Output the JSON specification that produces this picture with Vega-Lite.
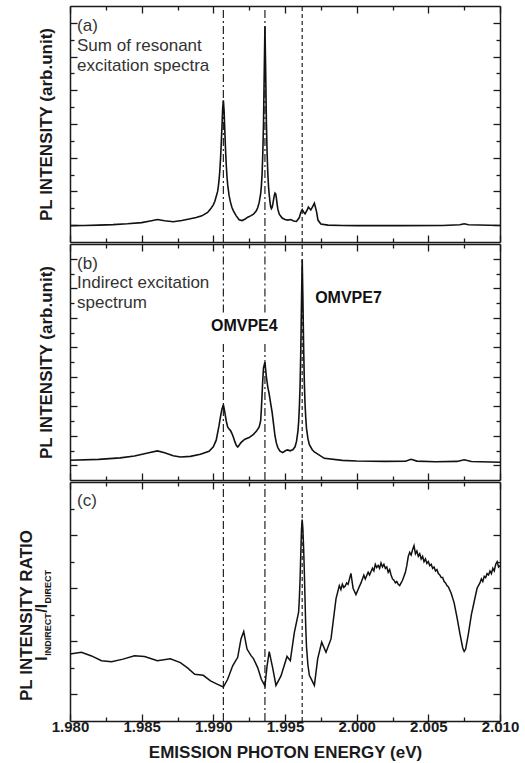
{
  "$schema": "https://vega.github.io/schema/vega-lite/v6.json",
  "padding": {"left": 17, "top": 5, "right": 5, "bottom": 5},
  "background": "white",
  "spacing": 0,
  "config": {
    "font": "Liberation Sans",
    "view": {"stroke": null},
    "axis": {
      "grid": false,
      "domainColor": "#1a1a1a", "domainWidth": 1.5,
      "tickColor": "#1a1a1a", "tickWidth": 1.3,
      "labelFont": "Liberation Sans", "labelFontWeight": "bold", "labelFontSize": 15, "labelColor": "#1a1a1a",
      "titleFont": "Liberation Sans", "titleFontWeight": "bold", "titleFontSize": 17, "titleColor": "#1a1a1a"
    }
  },
  "datasets": {
    "vlines": [
      {"e": 1.9907, "kind": "dashdot"},
      {"e": 1.9936, "kind": "dashdot"},
      {"e": 1.9962, "kind": "dash"}
    ],
    "a": [
      {"e":1.9800,"v":0.97},{"e":1.9810,"v":0.98},{"e":1.9820,"v":1.00},{"e":1.9830,"v":1.03},{"e":1.9840,"v":1.08},
      {"e":1.9850,"v":1.15},{"e":1.9856,"v":1.25},{"e":1.9861,"v":1.33},{"e":1.9866,"v":1.26},{"e":1.9872,"v":1.20},
      {"e":1.9878,"v":1.28},{"e":1.9884,"v":1.38},{"e":1.9888,"v":1.45},{"e":1.9892,"v":1.55},{"e":1.9896,"v":1.75},
      {"e":1.9898,"v":1.95},{"e":1.9900,"v":2.2},{"e":1.9901,"v":2.4},{"e":1.9902,"v":2.7},{"e":1.9903,"v":3.0},
      {"e":1.99035,"v":3.3},{"e":1.9904,"v":3.7},{"e":1.99045,"v":4.2},{"e":1.9905,"v":4.9},{"e":1.99055,"v":5.8},
      {"e":1.9906,"v":6.8},{"e":1.99065,"v":7.9},{"e":1.9907,"v":8.4},{"e":1.99075,"v":7.8},{"e":1.9908,"v":6.6},
      {"e":1.99085,"v":5.5},{"e":1.9909,"v":4.6},{"e":1.99095,"v":3.9},{"e":1.9910,"v":3.4},{"e":1.9911,"v":2.75},
      {"e":1.9912,"v":2.35},{"e":1.9913,"v":2.05},{"e":1.9914,"v":1.85},{"e":1.9916,"v":1.55},{"e":1.9918,"v":1.32},
      {"e":1.9920,"v":1.27},{"e":1.9922,"v":1.35},{"e":1.9924,"v":1.47},{"e":1.9926,"v":1.55},{"e":1.9928,"v":1.65},
      {"e":1.9930,"v":1.85},{"e":1.9931,"v":2.05},{"e":1.9932,"v":2.35},{"e":1.9933,"v":2.85},{"e":1.99335,"v":3.3},
      {"e":1.9934,"v":4.0},{"e":1.99345,"v":5.2},{"e":1.9935,"v":7.0},{"e":1.99355,"v":10.0},{"e":1.9936,"v":12.8},
      {"e":1.99365,"v":10.2},{"e":1.9937,"v":7.2},{"e":1.99375,"v":5.3},{"e":1.9938,"v":4.1},{"e":1.99385,"v":3.3},
      {"e":1.9939,"v":2.8},{"e":1.99395,"v":2.4},{"e":1.9940,"v":2.1},{"e":1.99405,"v":1.98},{"e":1.9941,"v":2.05},
      {"e":1.99415,"v":2.25},{"e":1.9942,"v":2.5},{"e":1.99425,"v":2.75},{"e":1.9943,"v":2.9},{"e":1.99435,"v":2.85},
      {"e":1.9944,"v":2.6},{"e":1.99445,"v":2.25},{"e":1.9945,"v":1.95},{"e":1.9946,"v":1.65},{"e":1.9948,"v":1.42},
      {"e":1.9950,"v":1.33},{"e":1.9952,"v":1.3},{"e":1.9954,"v":1.33},{"e":1.9956,"v":1.25},{"e":1.9958,"v":1.22},
      {"e":1.9960,"v":1.45},{"e":1.9961,"v":1.75},{"e":1.9962,"v":1.92},{"e":1.9963,"v":1.78},{"e":1.9964,"v":1.67},
      {"e":1.99655,"v":1.9},{"e":1.99663,"v":2.07},{"e":1.9968,"v":1.9},{"e":1.9969,"v":2.05},{"e":1.99705,"v":2.3},
      {"e":1.9972,"v":1.8},{"e":1.9973,"v":1.3},{"e":1.9975,"v":1.07},{"e":1.9980,"v":1.0},{"e":1.9990,"v":0.98},
      {"e":2.0000,"v":0.97},{"e":2.0030,"v":0.97},{"e":2.0060,"v":0.98},{"e":2.0072,"v":1.02},{"e":2.0075,"v":1.08},
      {"e":2.0078,"v":1.02},{"e":2.0100,"v":0.98}
    ],
    "b": [
      {"e":1.9800,"v":1.34},{"e":1.9820,"v":1.40},{"e":1.9835,"v":1.50},{"e":1.9845,"v":1.63},{"e":1.9855,"v":1.85},
      {"e":1.9861,"v":1.97},{"e":1.9866,"v":1.85},{"e":1.9872,"v":1.65},{"e":1.9877,"v":1.56},{"e":1.9884,"v":1.60},
      {"e":1.9891,"v":1.75},{"e":1.9897,"v":1.95},{"e":1.9900,"v":2.25},{"e":1.9902,"v":2.7},{"e":1.9903,"v":3.2},
      {"e":1.9904,"v":3.7},{"e":1.9905,"v":4.3},{"e":1.9906,"v":4.8},{"e":1.9907,"v":5.1},{"e":1.9908,"v":4.6},
      {"e":1.9909,"v":4.0},{"e":1.9910,"v":3.6},{"e":1.9911,"v":3.45},{"e":1.9912,"v":3.35},{"e":1.9913,"v":3.15},
      {"e":1.9914,"v":2.9},{"e":1.9915,"v":2.6},{"e":1.9916,"v":2.35},{"e":1.9917,"v":2.24},{"e":1.9918,"v":2.35},
      {"e":1.9919,"v":2.5},{"e":1.9920,"v":2.6},{"e":1.9922,"v":2.77},{"e":1.9925,"v":2.88},{"e":1.9928,"v":3.1},
      {"e":1.9930,"v":3.3},{"e":1.9932,"v":3.6},{"e":1.9933,"v":4.0},{"e":1.99335,"v":4.8},{"e":1.9934,"v":5.8},
      {"e":1.99345,"v":6.8},{"e":1.9935,"v":7.6},{"e":1.9936,"v":7.98},{"e":1.9937,"v":7.0},{"e":1.9938,"v":6.3},
      {"e":1.9939,"v":5.8},{"e":1.9940,"v":5.2},{"e":1.9941,"v":4.6},{"e":1.9942,"v":3.8},{"e":1.9943,"v":3.0},
      {"e":1.9944,"v":2.5},{"e":1.9945,"v":2.2},{"e":1.99465,"v":1.95},{"e":1.99484,"v":1.86},{"e":1.99505,"v":2.0},
      {"e":1.99519,"v":2.04},{"e":1.99535,"v":1.98},{"e":1.99554,"v":2.05},{"e":1.9957,"v":2.25},{"e":1.9958,"v":2.6},
      {"e":1.9959,"v":3.3},{"e":1.99595,"v":3.9},{"e":1.9960,"v":4.9},{"e":1.99605,"v":6.3},{"e":1.9961,"v":8.7},
      {"e":1.99615,"v":12.0},{"e":1.9962,"v":14.95},{"e":1.99625,"v":12.2},{"e":1.9963,"v":9.0},{"e":1.99635,"v":6.6},
      {"e":1.9964,"v":5.1},{"e":1.99645,"v":4.2},{"e":1.9965,"v":3.5},{"e":1.9966,"v":2.8},{"e":1.9967,"v":2.4},
      {"e":1.9969,"v":2.05},{"e":1.99705,"v":1.9},{"e":1.99774,"v":1.47},{"e":1.9990,"v":1.33},{"e":2.0000,"v":1.29},
      {"e":2.0020,"v":1.26},{"e":2.0034,"v":1.27},{"e":2.0038,"v":1.4},{"e":2.0042,"v":1.28},{"e":2.0055,"v":1.24},
      {"e":2.0070,"v":1.26},{"e":2.0075,"v":1.37},{"e":2.0080,"v":1.25},{"e":2.0100,"v":1.2}
    ],
    "c": [
      {"e":1.9800,"v":2.52},{"e":1.9808,"v":2.59},{"e":1.9815,"v":2.45},{"e":1.9822,"v":2.27},{"e":1.9829,"v":2.23},
      {"e":1.9837,"v":2.33},{"e":1.9845,"v":2.46},{"e":1.9852,"v":2.43},{"e":1.9861,"v":2.27},{"e":1.9870,"v":2.34},
      {"e":1.9877,"v":2.2},{"e":1.9882,"v":2.0},{"e":1.9887,"v":1.76},{"e":1.9893,"v":1.72},{"e":1.9898,"v":1.51},
      {"e":1.9903,"v":1.38},{"e":1.9907,"v":1.28},{"e":1.9910,"v":1.57},{"e":1.99135,"v":2.08},{"e":1.9917,"v":2.4},
      {"e":1.99193,"v":3.09},{"e":1.99212,"v":3.37},{"e":1.99235,"v":2.71},{"e":1.99263,"v":2.46},{"e":1.9928,"v":2.35},
      {"e":1.9931,"v":2.0},{"e":1.99335,"v":1.57},{"e":1.9936,"v":1.32},{"e":1.99375,"v":2.08},{"e":1.9939,"v":2.61},
      {"e":1.99414,"v":2.0},{"e":1.99437,"v":1.34},{"e":1.99472,"v":1.7},{"e":1.99514,"v":2.43},{"e":1.99537,"v":2.27},
      {"e":1.99565,"v":3.33},{"e":1.99595,"v":4.1},{"e":1.9960,"v":4.6},{"e":1.99605,"v":5.3},{"e":1.9961,"v":6.3},
      {"e":1.99615,"v":7.2},{"e":1.9962,"v":7.59},{"e":1.99625,"v":7.2},{"e":1.9963,"v":6.5},{"e":1.99635,"v":5.6},
      {"e":1.9964,"v":4.5},{"e":1.99645,"v":3.5},{"e":1.9965,"v":2.8},{"e":1.9966,"v":2.1},{"e":1.9967,"v":1.72},
      {"e":1.99705,"v":1.34},{"e":1.99728,"v":2.34},{"e":1.99756,"v":2.97},{"e":1.99786,"v":2.59},{"e":1.99821,"v":3.09},
      {"e":1.99856,"v":4.61},{"e":1.99879,"v":5.1},{"e":1.9989,"v":4.95},
      {"e":1.9990,"v":5.15},{"e":1.9991,"v":5.03},{"e":1.9992,"v":5.08},{"e":1.9993,"v":5.2},{"e":1.9994,"v":5.15},
      {"e":1.9995,"v":5.35},{"e":1.9996,"v":5.56},{"e":1.99975,"v":5.0},{"e":1.99995,"v":4.76},{"e":2.0001,"v":4.95},
      {"e":2.0003,"v":5.2},{"e":2.0005,"v":5.49},{"e":2.0006,"v":5.35},{"e":2.0008,"v":5.6},{"e":2.0009,"v":5.5},
      {"e":2.0011,"v":5.75},{"e":2.0012,"v":5.65},{"e":2.0013,"v":5.9},{"e":2.0014,"v":5.78},{"e":2.0015,"v":5.86},
      {"e":2.0016,"v":5.75},{"e":2.0017,"v":5.95},{"e":2.0018,"v":5.8},{"e":2.0019,"v":5.9},{"e":2.0020,"v":5.75},
      {"e":2.0021,"v":5.8},{"e":2.0022,"v":5.6},{"e":2.0023,"v":5.7},{"e":2.0024,"v":5.5},{"e":2.0025,"v":5.35},
      {"e":2.0026,"v":5.3},{"e":2.0027,"v":5.2},{"e":2.0028,"v":5.25},{"e":2.0029,"v":5.15},{"e":2.0030,"v":5.1},
      {"e":2.0031,"v":5.2},{"e":2.0032,"v":5.3},{"e":2.0033,"v":5.45},{"e":2.0034,"v":5.6},{"e":2.0035,"v":5.86},
      {"e":2.0036,"v":6.2},{"e":2.0037,"v":6.35},{"e":2.0038,"v":6.25},{"e":2.0039,"v":6.45},{"e":2.0040,"v":6.6},
      {"e":2.0041,"v":6.3},{"e":2.0042,"v":6.4},{"e":2.0043,"v":6.2},{"e":2.0044,"v":6.3},{"e":2.0045,"v":6.1},
      {"e":2.0046,"v":6.2},{"e":2.0047,"v":6.0},{"e":2.0048,"v":6.1},{"e":2.0049,"v":5.93},{"e":2.0050,"v":6.0},
      {"e":2.0051,"v":5.85},{"e":2.0052,"v":5.9},{"e":2.0053,"v":5.75},{"e":2.0054,"v":5.8},{"e":2.0055,"v":5.65},
      {"e":2.0056,"v":5.7},{"e":2.0057,"v":5.55},{"e":2.0058,"v":5.5},{"e":2.0059,"v":5.4},{"e":2.0060,"v":5.4},
      {"e":2.0061,"v":5.25},{"e":2.0062,"v":5.2},{"e":2.0063,"v":5.1},{"e":2.0064,"v":5.05},{"e":2.0066,"v":4.8},
      {"e":2.0068,"v":4.45},{"e":2.0070,"v":3.9},{"e":2.0072,"v":3.3},{"e":2.0074,"v":2.75},{"e":2.0075,"v":2.62},
      {"e":2.0076,"v":2.7},{"e":2.0078,"v":3.3},{"e":2.0080,"v":4.0},{"e":2.0082,"v":4.5},{"e":2.0084,"v":5.0},
      {"e":2.0086,"v":5.2},{"e":2.0087,"v":5.35},{"e":2.0088,"v":5.25},{"e":2.0089,"v":5.45},{"e":2.0090,"v":5.4},
      {"e":2.0091,"v":5.55},{"e":2.0092,"v":5.5},{"e":2.0093,"v":5.65},{"e":2.0094,"v":5.55},{"e":2.0095,"v":5.75},
      {"e":2.0096,"v":5.65},{"e":2.0097,"v":5.9},{"e":2.0098,"v":6.0},{"e":2.0099,"v":5.8},{"e":2.0100,"v":5.86}
    ]
  },
  "vconcat": [
    {
      "width": 430, "height": 236,
      "layer": [
        {
          "data": {"name": "vlines"},
          "mark": {"type": "rule", "strokeWidth": 1.2, "color": "#222"},
          "encoding": {
            "x": {"field": "e", "type": "quantitative", "scale": {"domain": [1.98, 2.01], "nice": false, "zero": false},
              "axis": {"orient": "top", "values": [1.98,1.9825,1.985,1.9875,1.99,1.9925,1.995,1.9975,2.0,2.0025,2.005,2.0075,2.01], "labels": false, "title": null,
                "tickSize": {"condition": {"test": "round(datum.value*10000) % 50 == 0", "value": -7}, "value": -4}}},
            "y": {"datum": 0, "type": "quantitative", "scale": {"domain": [0, 14], "nice": false},
              "axis": {"orient": "right", "values": [1,2,3,4,5,6,7,8,9,10,11,12,13], "labels": false, "title": null,
                "tickSize": {"condition": {"test": "datum.value % 2 == 1", "value": -7}, "value": -4}}},
            "y2": {"datum": 14},
            "strokeDash": {"field": "kind", "type": "nominal", "scale": {"domain": ["dashdot", "dash"], "range": [[8, 3, 2, 3], [4, 3]]}, "legend": null}
          }
        },
        {
          "data": {"name": "a"},
          "mark": {"type": "line", "strokeWidth": 1.6, "color": "#111"},
          "encoding": {
            "x": {"field": "e", "type": "quantitative",
              "axis": {"orient": "bottom", "values": [1.98,1.9825,1.985,1.9875,1.99,1.9925,1.995,1.9975,2.0,2.0025,2.005,2.0075,2.01], "labels": false, "title": null,
                "tickSize": {"condition": {"test": "round(datum.value*10000) % 50 == 0", "value": -7}, "value": -4}}},
            "y": {"field": "v", "type": "quantitative",
              "axis": {"orient": "left", "values": [1,2,3,4,5,6,7,8,9,10,11,12,13], "labels": false, "title": "PL INTENSITY (arb.unit)", "titlePadding": 14,
                "tickSize": {"condition": {"test": "datum.value % 2 == 1", "value": -7}, "value": -4}}}
          }
        },
        {
          "data": {"values": [{}]},
          "mark": {"type": "text", "align": "left", "baseline": "middle", "fontSize": 17, "color": "#333"},
          "encoding": {
            "x": {"datum": 1.98049, "type": "quantitative", "axis": null},
            "y": {"datum": 12.83, "type": "quantitative", "axis": null},
            "text": {"value": "(a)"}
          }
        },
        {
          "data": {"values": [{}]},
          "mark": {"type": "text", "align": "left", "baseline": "middle", "fontSize": 17, "color": "#333"},
          "encoding": {
            "x": {"datum": 1.98049, "type": "quantitative", "axis": null},
            "y": {"datum": 11.65, "type": "quantitative", "axis": null},
            "text": {"value": "Sum of resonant"}
          }
        },
        {
          "data": {"values": [{}]},
          "mark": {"type": "text", "align": "left", "baseline": "middle", "fontSize": 17, "color": "#333"},
          "encoding": {
            "x": {"datum": 1.98049, "type": "quantitative", "axis": null},
            "y": {"datum": 10.46, "type": "quantitative", "axis": null},
            "text": {"value": "excitation spectra"}
          }
        }
      ],
      "resolve": {"axis": {"x": "independent", "y": "independent"}}
    },
    {
      "width": 430, "height": 236,
      "layer": [
        {
          "data": {"name": "vlines"},
          "transform": [{"filter": "datum.kind == 'dash'"}],
          "mark": {"type": "rule", "strokeWidth": 1.2, "color": "#222", "strokeDash": [4, 3]},
          "encoding": {
            "x": {"field": "e", "type": "quantitative", "scale": {"domain": [1.98, 2.01], "nice": false, "zero": false},
              "axis": {"orient": "top", "values": [1.98,1.9825,1.985,1.9875,1.99,1.9925,1.995,1.9975,2.0,2.0025,2.005,2.0075,2.01], "labels": false, "title": null,
                "tickSize": {"condition": {"test": "round(datum.value*10000) % 50 == 0", "value": -7}, "value": -4}}},
            "y": {"datum": 0, "type": "quantitative", "scale": {"domain": [0, 16], "nice": false},
              "axis": {"orient": "right", "values": [1,2,3,4,5,6,7,8,9,10,11,12,13,14,15], "labels": false, "title": null,
                "tickSize": {"condition": {"test": "datum.value % 2 == 1", "value": -7}, "value": -4}}},
            "y2": {"datum": 16}
          }
        },
        {
          "data": {"name": "vlines"},
          "transform": [{"filter": "datum.kind == 'dashdot'"}],
          "mark": {"type": "rule", "strokeWidth": 1.2, "color": "#222", "strokeDash": [8, 3, 2, 3]},
          "encoding": {
            "x": {"field": "e", "type": "quantitative", "axis": null},
            "y": {"datum": 0, "type": "quantitative", "axis": null},
            "y2": {"datum": 9.37}
          }
        },
        {
          "data": {"name": "vlines"},
          "transform": [{"filter": "datum.kind == 'dashdot'"}],
          "mark": {"type": "rule", "strokeWidth": 1.2, "color": "#222", "strokeDash": [8, 3, 2, 3]},
          "encoding": {
            "x": {"field": "e", "type": "quantitative", "axis": null},
            "y": {"datum": 11.36, "type": "quantitative", "axis": null},
            "y2": {"datum": 16}
          }
        },
        {
          "data": {"name": "b"},
          "mark": {"type": "line", "strokeWidth": 1.6, "color": "#111"},
          "encoding": {
            "x": {"field": "e", "type": "quantitative",
              "axis": {"orient": "bottom", "values": [1.98,1.9825,1.985,1.9875,1.99,1.9925,1.995,1.9975,2.0,2.0025,2.005,2.0075,2.01], "labels": false, "title": null,
                "tickSize": {"condition": {"test": "round(datum.value*10000) % 50 == 0", "value": -7}, "value": -4}}},
            "y": {"field": "v", "type": "quantitative",
              "axis": {"orient": "left", "values": [1,2,3,4,5,6,7,8,9,10,11,12,13,14,15], "labels": false, "title": "PL INTENSITY (arb.unit)", "titlePadding": 14,
                "tickSize": {"condition": {"test": "datum.value % 2 == 1", "value": -7}, "value": -4}}}
          }
        },
        {
          "data": {"values": [{}]},
          "mark": {"type": "text", "align": "left", "baseline": "middle", "fontSize": 17, "color": "#333"},
          "encoding": {
            "x": {"datum": 1.98049, "type": "quantitative", "axis": null},
            "y": {"datum": 14.62, "type": "quantitative", "axis": null},
            "text": {"value": "(b)"}
          }
        },
        {
          "data": {"values": [{}]},
          "mark": {"type": "text", "align": "left", "baseline": "middle", "fontSize": 17, "color": "#333"},
          "encoding": {
            "x": {"datum": 1.98049, "type": "quantitative", "axis": null},
            "y": {"datum": 13.38, "type": "quantitative", "axis": null},
            "text": {"value": "Indirect excitation"}
          }
        },
        {
          "data": {"values": [{}]},
          "mark": {"type": "text", "align": "left", "baseline": "middle", "fontSize": 17, "color": "#333"},
          "encoding": {
            "x": {"datum": 1.98049, "type": "quantitative", "axis": null},
            "y": {"datum": 12.02, "type": "quantitative", "axis": null},
            "text": {"value": "spectrum"}
          }
        },
        {
          "data": {"values": [{}]},
          "mark": {"type": "text", "align": "center", "baseline": "middle", "fontSize": 16, "fontWeight": "bold", "color": "#111"},
          "encoding": {
            "x": {"datum": 1.99216, "type": "quantitative", "axis": null},
            "y": {"datum": 10.44, "type": "quantitative", "axis": null},
            "text": {"value": "OMVPE4"}
          }
        },
        {
          "data": {"values": [{}]},
          "mark": {"type": "text", "align": "center", "baseline": "middle", "fontSize": 16, "fontWeight": "bold", "color": "#111"},
          "encoding": {
            "x": {"datum": 1.99943, "type": "quantitative", "axis": null},
            "y": {"datum": 12.36, "type": "quantitative", "axis": null},
            "text": {"value": "OMVPE7"}
          }
        }
      ],
      "resolve": {"axis": {"x": "independent", "y": "independent"}}
    },
    {
      "width": 430, "height": 239,
      "layer": [
        {
          "data": {"name": "vlines"},
          "mark": {"type": "rule", "strokeWidth": 1.2, "color": "#222"},
          "encoding": {
            "x": {"field": "e", "type": "quantitative", "scale": {"domain": [1.98, 2.01], "nice": false, "zero": false},
              "axis": {"orient": "top", "values": [1.98,1.9825,1.985,1.9875,1.99,1.9925,1.995,1.9975,2.0,2.0025,2.005,2.0075,2.01], "labels": false, "title": null,
                "tickSize": {"condition": {"test": "round(datum.value*10000) % 50 == 0", "value": -7}, "value": -4}}},
            "y": {"datum": 0, "type": "quantitative", "scale": {"domain": [0, 9], "nice": false},
              "axis": {"orient": "right", "values": [1,2,3,4,5,6,7,8], "labels": false, "title": null,
                "tickSize": {"condition": {"test": "datum.value % 2 == 1", "value": -7}, "value": -4}}},
            "y2": {"datum": 9},
            "strokeDash": {"field": "kind", "type": "nominal", "scale": {"domain": ["dashdot", "dash"], "range": [[8, 3, 2, 3], [4, 3]]}, "legend": null}
          }
        },
        {
          "data": {"name": "c"},
          "mark": {"type": "line", "strokeWidth": 1.5, "color": "#111"},
          "encoding": {
            "x": {"field": "e", "type": "quantitative",
              "axis": {"orient": "bottom", "values": [1.98,1.9825,1.985,1.9875,1.99,1.9925,1.995,1.9975,2.0,2.0025,2.005,2.0075,2.01],
                "labelExpr": "round(datum.value*10000) % 50 == 0 ? format(datum.value, '.3f') : ''",
                "labelFlush": false, "labelOverlap": false, "labelPadding": 5,
                "title": "EMISSION PHOTON ENERGY (eV)", "titlePadding": 7,
                "tickSize": {"condition": {"test": "round(datum.value*10000) % 50 == 0", "value": -7}, "value": -4}}},
            "y": {"field": "v", "type": "quantitative",
              "axis": {"orient": "left", "values": [1,2,3,4,5,6,7,8], "labels": false, "title": "PL INTENSITY RATIO", "titlePadding": 34, "titleY": 133,
                "tickSize": {"condition": {"test": "datum.value % 2 == 1", "value": -7}, "value": -4}}}
          }
        },
        {
          "data": {"values": [{}]},
          "mark": {"type": "text", "align": "left", "baseline": "middle", "fontSize": 17, "color": "#333"},
          "encoding": {
            "x": {"datum": 1.98049, "type": "quantitative", "axis": null},
            "y": {"datum": 8.27, "type": "quantitative", "axis": null},
            "text": {"value": "(c)"}
          }
        },
        {
          "data": {"values": [{}]},
          "mark": {"type": "text", "align": "left", "baseline": "alphabetic", "angle": 270, "fontSize": 16, "fontWeight": "bold", "color": "#1a1a1a"},
          "encoding": {
            "x": {"datum": 1.978395, "type": "quantitative", "axis": null},
            "y": {"datum": 2.27, "type": "quantitative", "axis": null},
            "text": {"value": "I"}
          }
        },
        {
          "data": {"values": [{}]},
          "mark": {"type": "text", "align": "left", "baseline": "alphabetic", "angle": 270, "fontSize": 9, "fontWeight": "bold", "color": "#1a1a1a"},
          "encoding": {
            "x": {"datum": 1.978674, "type": "quantitative", "axis": null},
            "y": {"datum": 2.46, "type": "quantitative", "axis": null},
            "text": {"value": "INDIRECT"}
          }
        },
        {
          "data": {"values": [{}]},
          "mark": {"type": "text", "align": "left", "baseline": "alphabetic", "angle": 270, "fontSize": 16, "fontWeight": "bold", "color": "#1a1a1a"},
          "encoding": {
            "x": {"datum": 1.978395, "type": "quantitative", "axis": null},
            "y": {"datum": 4.08, "type": "quantitative", "axis": null},
            "text": {"value": "/I"}
          }
        },
        {
          "data": {"values": [{}]},
          "mark": {"type": "text", "align": "left", "baseline": "alphabetic", "angle": 270, "fontSize": 9, "fontWeight": "bold", "color": "#1a1a1a"},
          "encoding": {
            "x": {"datum": 1.978674, "type": "quantitative", "axis": null},
            "y": {"datum": 4.42, "type": "quantitative", "axis": null},
            "text": {"value": "DIRECT"}
          }
        }
      ],
      "resolve": {"axis": {"x": "independent", "y": "independent"}}
    }
  ]
}
